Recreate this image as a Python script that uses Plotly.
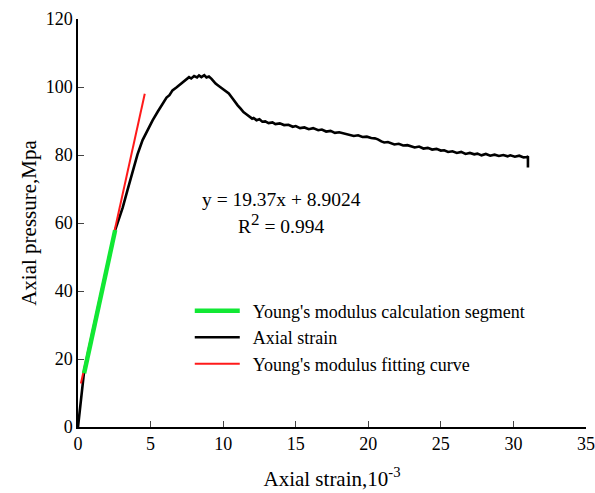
import plotly.graph_objects as go

# Black curve: axial stress-strain
strain_x = [0, 0.1, 0.2, 0.3, 0.41, 0.6, 0.8, 1.0, 1.2, 1.4, 1.6, 1.8, 2.0, 2.2, 2.4, 2.56,
            2.8, 3.08, 3.4, 3.77, 4.1, 4.45, 4.8, 5.14, 5.5, 5.82, 6.1, 6.3, 6.51, 6.8, 6.97,
            7.2, 7.42, 7.65, 7.8, 8.0, 8.2, 8.34, 8.5, 8.7, 8.85, 9.02, 9.2, 9.35, 9.48, 9.7,
            9.9, 10.1, 10.39, 10.6, 10.8, 11.0, 11.19, 11.4, 11.6, 11.8, 12.0, 12.1, 12.3, 12.5,
            12.7, 12.9, 13.13, 13.4, 13.6, 13.9, 14.2, 14.5, 14.8, 15.0, 15.3, 15.6, 15.9, 16.2,
            16.55, 16.8, 17.1, 17.4, 17.7, 18.0, 18.38, 18.7, 19.0, 19.3, 19.6, 19.9, 20.2,
            20.45, 20.66, 20.9, 21.1, 21.35, 21.58, 21.8, 22.1, 22.4, 22.7, 22.95, 23.2, 23.5,
            23.8, 24.1, 24.4, 24.7, 25.0, 25.23, 25.5, 25.8, 26.1, 26.4, 26.7, 27.0, 27.3, 27.52,
            27.8, 28.1, 28.4, 28.7, 29.0, 29.3, 29.6, 29.79, 30.1, 30.4, 30.7, 30.94, 31.0, 31.0]
strain_y = [0, 3.5, 7.0, 11.0, 15.9, 19.5, 23.3, 27.1, 30.9, 34.7, 38.5, 42.3, 46.4, 50.6, 54.6, 57.9,
            61.0, 64.5, 69.5, 75.5, 80.2, 84.4, 87.6, 90.2, 92.8, 95.1, 96.9, 97.6, 99.0, 99.9, 100.5,
            101.4, 102.0, 102.9, 102.5, 103.2, 102.8, 103.4, 102.9, 103.5, 102.8, 103.1, 102.4, 101.6, 101.0, 100.3,
            99.7, 99.2, 98.1, 96.9, 95.6, 94.6, 93.7, 92.6, 92.0, 91.4, 90.7, 90.9, 90.2, 90.5,
            89.8, 89.9, 89.4, 89.6, 89.1, 89.3, 88.8, 88.9, 88.3, 88.5, 87.9, 88.1, 87.6, 87.9,
            87.3, 87.5, 86.9, 87.1, 86.5, 86.7, 86.3, 86.1, 85.6, 85.8, 85.3, 85.4, 85.0,
            84.9, 84.6, 84.0, 83.7, 83.8, 83.4, 83.1, 83.3, 82.8, 82.9, 82.6, 82.2, 82.5,
            81.9, 82.1, 81.6, 81.8, 81.3, 81.4, 80.9, 81.1, 80.6, 80.9, 80.3, 80.6, 80.2, 80.4,
            79.9, 80.3, 79.8, 80.1, 79.7, 80.0, 79.6, 79.9, 79.5, 79.8, 79.3, 79.4, 79.6, 76.3]

# Green: Young's modulus calculation segment
seg_x = [0.42, 1.0, 1.5, 2.0, 2.56]
seg_y = [15.8, 27.2, 36.6, 46.4, 57.9]

# Red: fitting line endpoints
fit_x = [0.2, 4.6]
fit_y = [12.8, 98.0]

x_ticks = [0, 5, 10, 15, 20, 25, 30, 35]
y_ticks = [0, 20, 40, 60, 80, 100, 120]

FONT = "Liberation Serif, Times New Roman, serif"
PAD = "\u00a0\u2009"

fig = go.Figure()
fig.add_trace(go.Scatter(x=strain_x, y=strain_y, mode="lines", name=PAD + "Axial strain",
                         line=dict(color="black", width=2.6), legendrank=2, legendgroup="b"))
fig.add_trace(go.Scatter(x=fit_x, y=fit_y, mode="lines", name=PAD + "Young's modulus fitting curve",
                         line=dict(color="#ff1a1a", width=2), legendrank=3, legendgroup="c"))
fig.add_trace(go.Scatter(x=seg_x, y=seg_y, mode="lines", name=PAD + "Young's modulus calculation segment",
                         line=dict(color="#11e834", width=4.5), legendrank=1, legendgroup="a"))

fig.update_layout(
    width=595, height=493,
    margin=dict(l=78, r=9, t=19, b=66, autoexpand=False),
    paper_bgcolor="white", plot_bgcolor="white",
    font=dict(family=FONT, size=18, color="black"),
    showlegend=True,
    legend=dict(x=0.22, y=0.219, xanchor="left", yanchor="middle",
                bgcolor="rgba(0,0,0,0)", font=dict(size=18, family=FONT),
                tracegroupgap=0, itemwidth=45),
    xaxis=dict(range=[0, 35], tickvals=x_ticks, ticks="inside", ticklen=6,
               showline=True, linecolor="black", linewidth=1.5, showgrid=False,
               zeroline=False, tickfont=dict(size=18, family=FONT), ticklabeloverflow="allow",
               automargin=False,
               title=dict(text="Axial strain,10<sup>-3</sup>", font=dict(size=21, family=FONT), standoff=18)),
    yaxis=dict(range=[0, 120], tickvals=y_ticks, ticks="inside", ticklen=6,
               showline=True, linecolor="black", linewidth=1.5, showgrid=False,
               zeroline=False, tickfont=dict(size=18, family=FONT), ticklabeloverflow="allow",
               automargin=False,
               title=dict(text="Axial pressure,Mpa", font=dict(size=21, family=FONT), standoff=3)),
    annotations=[
        dict(x=14.0, y=67.0, xref="x", yref="y", text="y = 19.37x + 8.9024",
             showarrow=False, font=dict(size=19.5, family=FONT), xanchor="center", yanchor="middle"),
        dict(x=14.0, y=60.0, xref="x", yref="y",
             text="R<sup><span style='font-size:17px'>2</span></sup> = 0.994",
             showarrow=False, font=dict(size=19.5, family=FONT), xanchor="center", yanchor="middle"),
    ],
)

fig.write_html("out.html")
